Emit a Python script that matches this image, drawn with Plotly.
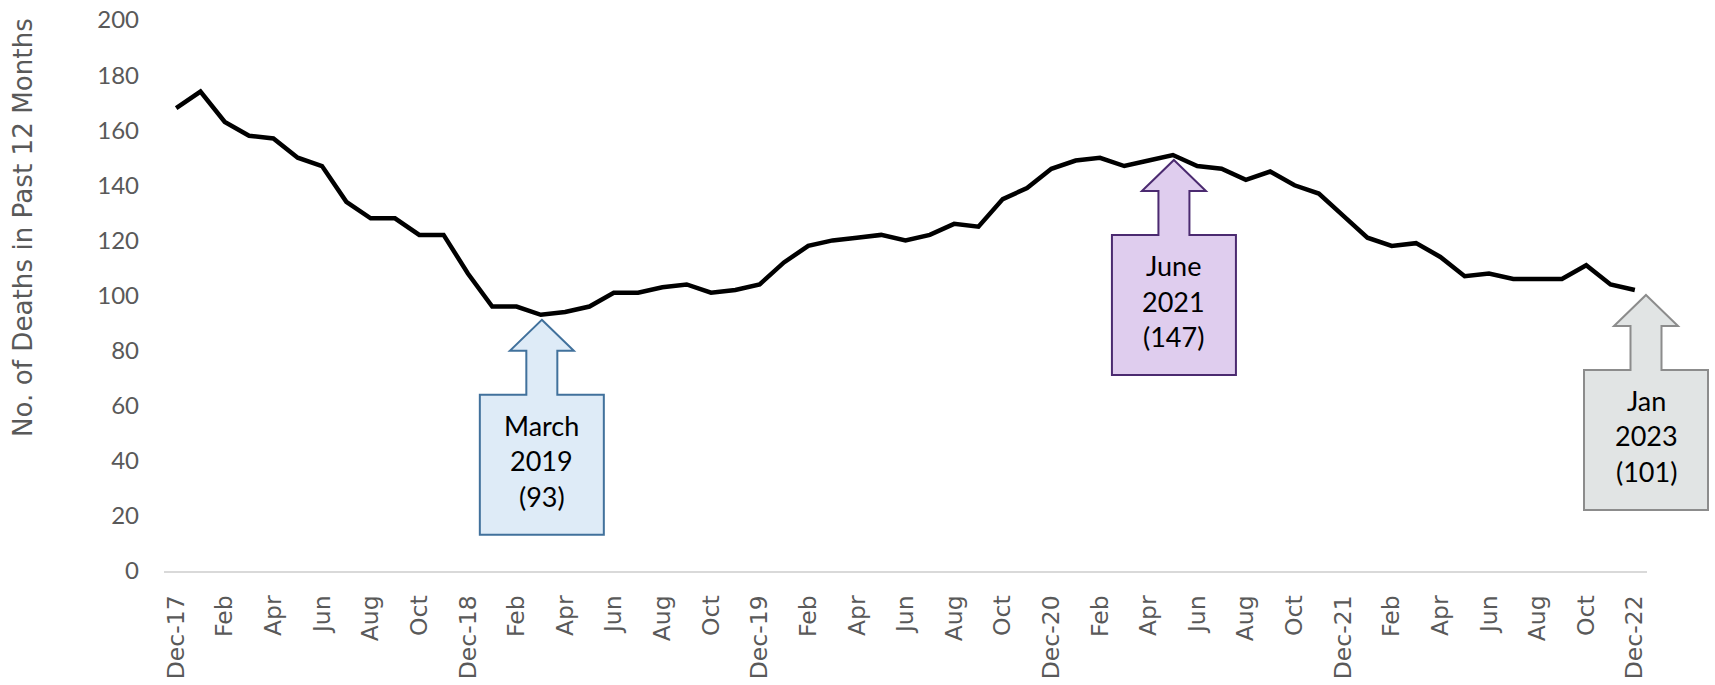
import plotly.graph_objects as go

# ---- data ----
months = [
    "Dec-17",
    "Jan-18", "Feb-18", "Mar-18", "Apr-18", "May-18", "Jun-18", "Jul-18", "Aug-18", "Sep-18", "Oct-18", "Nov-18", "Dec-18",
    "Jan-19", "Feb-19", "Mar-19", "Apr-19", "May-19", "Jun-19", "Jul-19", "Aug-19", "Sep-19", "Oct-19", "Nov-19", "Dec-19",
    "Jan-20", "Feb-20", "Mar-20", "Apr-20", "May-20", "Jun-20", "Jul-20", "Aug-20", "Sep-20", "Oct-20", "Nov-20", "Dec-20",
    "Jan-21", "Feb-21", "Mar-21", "Apr-21", "May-21", "Jun-21", "Jul-21", "Aug-21", "Sep-21", "Oct-21", "Nov-21", "Dec-21",
    "Jan-22", "Feb-22", "Mar-22", "Apr-22", "May-22", "Jun-22", "Jul-22", "Aug-22", "Sep-22", "Oct-22", "Nov-22", "Dec-22",
]
deaths = [
    168,
    174, 163, 158, 157, 150, 147, 134, 128, 128, 122, 122, 108,
    96, 96, 93, 94, 96, 101, 101, 103, 104, 101, 102, 104,
    112, 118, 120, 121, 122, 120, 122, 126, 125, 135, 139, 146,
    149, 150, 147, 149, 151, 147, 146, 142, 145, 140, 137, 129,
    121, 118, 119, 114, 107, 108, 106, 106, 106, 111, 104, 102,
]
tick_labels = [
    "Dec-17", "Feb", "Apr", "Jun", "Aug", "Oct",
    "Dec-18", "Feb", "Apr", "Jun", "Aug", "Oct",
    "Dec-19", "Feb", "Apr", "Jun", "Aug", "Oct",
    "Dec-20", "Feb", "Apr", "Jun", "Aug", "Oct",
    "Dec-21", "Feb", "Apr", "Jun", "Aug", "Oct",
    "Dec-22",
]
callout_months = ["Mar-19", "May-21", "Dec-22"]
callout_texts = [["March", "2019", "(93)"], ["June", "2021", "(147)"], ["Jan", "2023", "(101)"]]
callout_fills = ["#deebf7", "#dfcdee", "#e1e4e4"]
callout_lines = ["#41719c", "#4b2a70", "#8c8c8c"]
y_title = "No. of Deaths in Past 12 Months"

xs = list(range(len(deaths)))
tick_vals = xs[::2]

fig = go.Figure()
fig.add_trace(go.Scatter(
    x=xs, y=deaths, mode="lines",
    line=dict(color="#000000", width=4.5),
    hoverinfo="skip", showlegend=False,
))

GAP = 5          # px between data point and arrow tip
HEAD_H, HEAD_W = 31, 32
SHAFT_W, SHAFT_END = 15.5, 75
BOX_W, BOX_END = 62, 215
LINE_STEP = 35.5
MID = 141


def arrow_path(dx, dy):
    t = dy
    pts = [
        (0, t), (HEAD_W, t - HEAD_H), (SHAFT_W, t - HEAD_H), (SHAFT_W, t - SHAFT_END),
        (BOX_W, t - SHAFT_END), (BOX_W, t - BOX_END), (-BOX_W, t - BOX_END),
        (-BOX_W, t - SHAFT_END), (-SHAFT_W, t - SHAFT_END), (-SHAFT_W, t - HEAD_H),
        (-HEAD_W, t - HEAD_H),
    ]
    return "M " + " L ".join(f"{x + dx:.1f},{y:.1f}" for x, y in pts) + " Z"


for k, m in enumerate(callout_months):
    idx = months.index(m)
    val = deaths[idx]
    last = (k == len(callout_months) - 1)
    if last:
        xref, xanc, dx = "paper", 1.0, -1
    else:
        xref, xanc, dx = "x", xs[idx], 1
    fig.add_shape(
        type="path", xref=xref, yref="y",
        xsizemode="pixel", ysizemode="pixel",
        xanchor=xanc, yanchor=val,
        path=arrow_path(dx, -GAP),
        fillcolor=callout_fills[k],
        line=dict(color=callout_lines[k], width=2),
        layer="above",
    )
    for j, txt in enumerate(callout_texts[k]):
        fig.add_annotation(
            xref=xref, yref="y", x=xanc, y=val,
            xshift=dx, yshift=-(GAP + MID + (j - 1) * LINE_STEP),
            text=txt, showarrow=False,
            font=dict(family="Lato", size=27, color="#000000"),
            xanchor="center", yanchor="middle",
        )

fig.add_annotation(
    xref="paper", yref="paper", x=-0.095, y=(571 - 228) / 551,
    text=y_title, textangle=-90, showarrow=False,
    font=dict(family="DejaVu Sans", size=26.2, color="#595959"),
    xanchor="center", yanchor="middle",
)

fig.update_layout(
    width=1715, height=685,
    margin=dict(l=164, r=68, t=20, b=114, autoexpand=False),
    paper_bgcolor="#ffffff", plot_bgcolor="#ffffff",
    showlegend=False,
    xaxis=dict(
        range=[-0.5, len(deaths) - 0.5], automargin=False,
        tickmode="array", tickvals=tick_vals, ticktext=tick_labels,
        tickangle=-90, showgrid=False, zeroline=False,
        showline=True, linecolor="#d9d9d9", linewidth=2,
        ticks="", ticklabelstandoff=13,
        tickfont=dict(family="DejaVu Sans", size=23.5, color="#595959"),
    ),
    yaxis=dict(
        range=[0, 200], tickvals=list(range(0, 201, 20)), automargin=False,
        showgrid=False, zeroline=False, showline=False,
        ticks="", ticklabelstandoff=24,
        tickfont=dict(family="Lato", size=24, color="#595959"),
    ),
)

fig.write_html(
    "out.html",
    config={"displayModeBar": False},
    post_script="document.body.style.margin='0';document.body.style.overflow='hidden';",
)
